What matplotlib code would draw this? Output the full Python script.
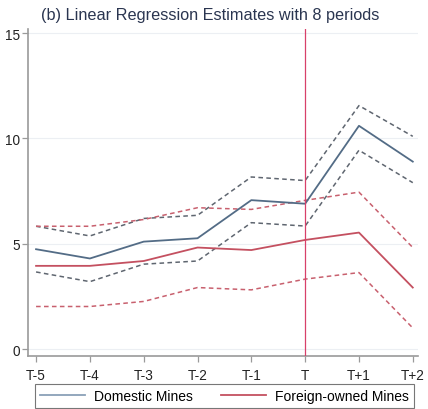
import matplotlib
matplotlib.use("Agg")
import matplotlib.pyplot as plt
import numpy as np

plt.rcParams['font.family'] = ['Liberation Sans', 'DejaVu Sans']

# periodi e stime
periodi = ["T-5", "T-4", "T-3", "T-2", "T-1", "T", "T+1", "T+2"]

domestic = [4.74, 4.30, 5.10, 5.26, 7.07, 6.90, 10.60, 8.90]
domestic_hi = [5.83, 5.37, 6.20, 6.35, 8.17, 8.00, 11.56, 10.10]
domestic_lo = [3.66, 3.20, 4.03, 4.18, 6.00, 5.84, 9.44, 7.90]

foreign = [3.95, 3.95, 4.18, 4.82, 4.70, 5.18, 5.53, 2.92]
foreign_hi = [5.83, 5.83, 6.15, 6.71, 6.63, 7.06, 7.45, 4.82]
foreign_lo = [2.02, 2.02, 2.26, 2.92, 2.81, 3.32, 3.63, 1.00]

yticks = [0, 5, 10, 15]
evento = "T"

col_dom = '#536c86'
col_dom_ci = '#5f6670'
col_for = '#c45060'
col_for_ci = '#c8606e'
col_vline = '#d8406a'

fig = plt.figure(figsize=(4.28, 4.10), dpi=100)
ax = fig.add_axes([0.0654, 0.1293, 0.9116, 0.7977])

x = np.arange(len(periodi))

# griglia orizzontale leggera
for yt in yticks:
    ax.axhline(yt, color='#eceff3', linewidth=0.8, zorder=0)

ax.plot(x, domestic_hi, color=col_dom_ci, linestyle=(0, (3, 2.2)), linewidth=1.1, zorder=2)
ax.plot(x, domestic_lo, color=col_dom_ci, linestyle=(0, (3, 2.2)), linewidth=1.1, zorder=2)
ax.plot(x, foreign_hi, color=col_for_ci, linestyle=(0, (3, 2.2)), linewidth=1.1, zorder=2)
ax.plot(x, foreign_lo, color=col_for_ci, linestyle=(0, (3, 2.2)), linewidth=1.1, zorder=2)
ax.plot(x, domestic, color=col_dom, linewidth=1.3, label="Domestic Mines", zorder=3)
ax.plot(x, foreign, color=col_for, linewidth=1.3, label="Foreign-owned Mines", zorder=3)

ax.axvline(periodi.index(evento), color=col_vline, linewidth=0.9, zorder=4)

ax.set_xlim(-0.15, 7.1)
ax.set_ylim(-0.33, 15.2)
ax.set_xticks(x)
ax.set_xticklabels(periodi)
ax.set_yticks(yticks)

for side in ['top', 'right']:
    ax.spines[side].set_visible(False)
for side in ['left', 'bottom']:
    ax.spines[side].set_color('#9a9a9a')
    ax.spines[side].set_linewidth(1.2)
ax.tick_params(axis='x', colors='#9a9a9a', labelcolor='#222222', labelsize=9.8,
               length=4, width=0.9, pad=5)
ax.tick_params(axis='y', colors='#9a9a9a', labelcolor='#222222', labelsize=9.8,
               length=4.5, width=0.9, pad=1.5)

fig.text(0.491, 0.963, "(b) Linear Regression Estimates with 8 periods", fontsize=11.7,
         color='#2a3550', ha='center', va='center')

leg = fig.legend(loc='lower center', bbox_to_anchor=(0.525, -0.014), ncol=2,
                 frameon=True, fancybox=False, fontsize=10, handlelength=3.2,
                 handletextpad=0.7, columnspacing=2.0, borderpad=0.35)
leg.get_frame().set_edgecolor('#555555')
leg.get_frame().set_linewidth(0.8)
leg.legend_handles[0].set_color('#8aa0b8')

fig.savefig("out.png", dpi=100)
